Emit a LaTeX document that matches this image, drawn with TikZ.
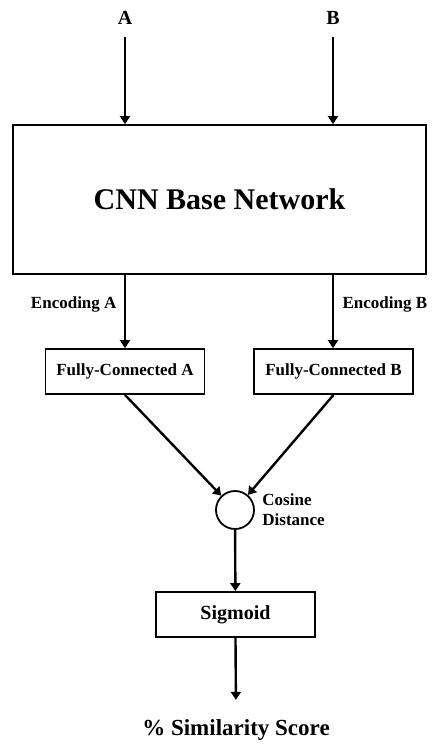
\documentclass[tikz,border=0pt]{standalone}
\usepackage{fontspec}
\setmainfont{Liberation Serif}
\usetikzlibrary{arrows.meta,positioning}
\begin{document}
\begin{tikzpicture}[x=1pt,y=-1pt,
    box/.style={draw,line width=1.8pt,minimum width=159pt,minimum height=45pt,font=\bfseries\fontsize{17}{20}\selectfont},
    arr/.style={line width=2.4pt,-{Triangle[length=8pt,width=10pt]}},
    inlbl/.style={font=\bfseries\fontsize{20}{24}\selectfont,anchor=base,inner sep=3pt},
    enclbl/.style={font=\bfseries\fontsize{17}{20}\selectfont}]
  \useasboundingbox (0,0) rectangle (444,747);
  % ingressi
  \node[inlbl] (inA) at (125,24) {A};
  \node[inlbl] (inB) at (333,24) {B};
  % rete di base
  \node[draw,line width=1.8pt,minimum width=413pt,minimum height=149pt,
        font=\bfseries\fontsize{30}{36}\selectfont] (cnn) at (219.5,199.5) {CNN Base Network};
  \node[box] (fcA) at (125,371.5) {Fully-Connected A};
  \node[box] (fcB) at (333.5,371.5) {Fully-Connected B};
  \node[draw,circle,line width=1.8pt,minimum size=38pt,inner sep=0pt] (cos) at (235,510) {};
  \node[enclbl,align=left,right=4pt of cos] (cosl) {Cosine\\Distance};
  \node[box,font=\bfseries\fontsize{20}{24}\selectfont] (sig) at (235.5,614.5) {Sigmoid};
  \node[inlbl,font=\bfseries\fontsize{23}{28}\selectfont] (score) at (236,735) {\% Similarity Score};
  % frecce
  \draw[arr,shorten <=10pt] (inA.south) -- (inA.south |- cnn.north);
  \draw[arr,shorten <=10pt] (inB.south) -- (inB.south |- cnn.north);
  \draw[arr] (fcA.north |- cnn.south) -- (fcA.north) node[enclbl,pos=0.4,left=4pt] {Encoding A};
  \draw[arr] (inB.south |- cnn.south) -- (inB.south |- fcB.north) node[enclbl,pos=0.4,right=5pt] {Encoding B};
  \draw[arr] (fcA.south) -- (cos);
  \draw[arr] (fcB.south) -- (cos);
  \draw[arr] (cos) -- (sig);
  \draw[arr,shorten >=16pt] (sig.south) -- (score.north);
\end{tikzpicture}
\end{document}
